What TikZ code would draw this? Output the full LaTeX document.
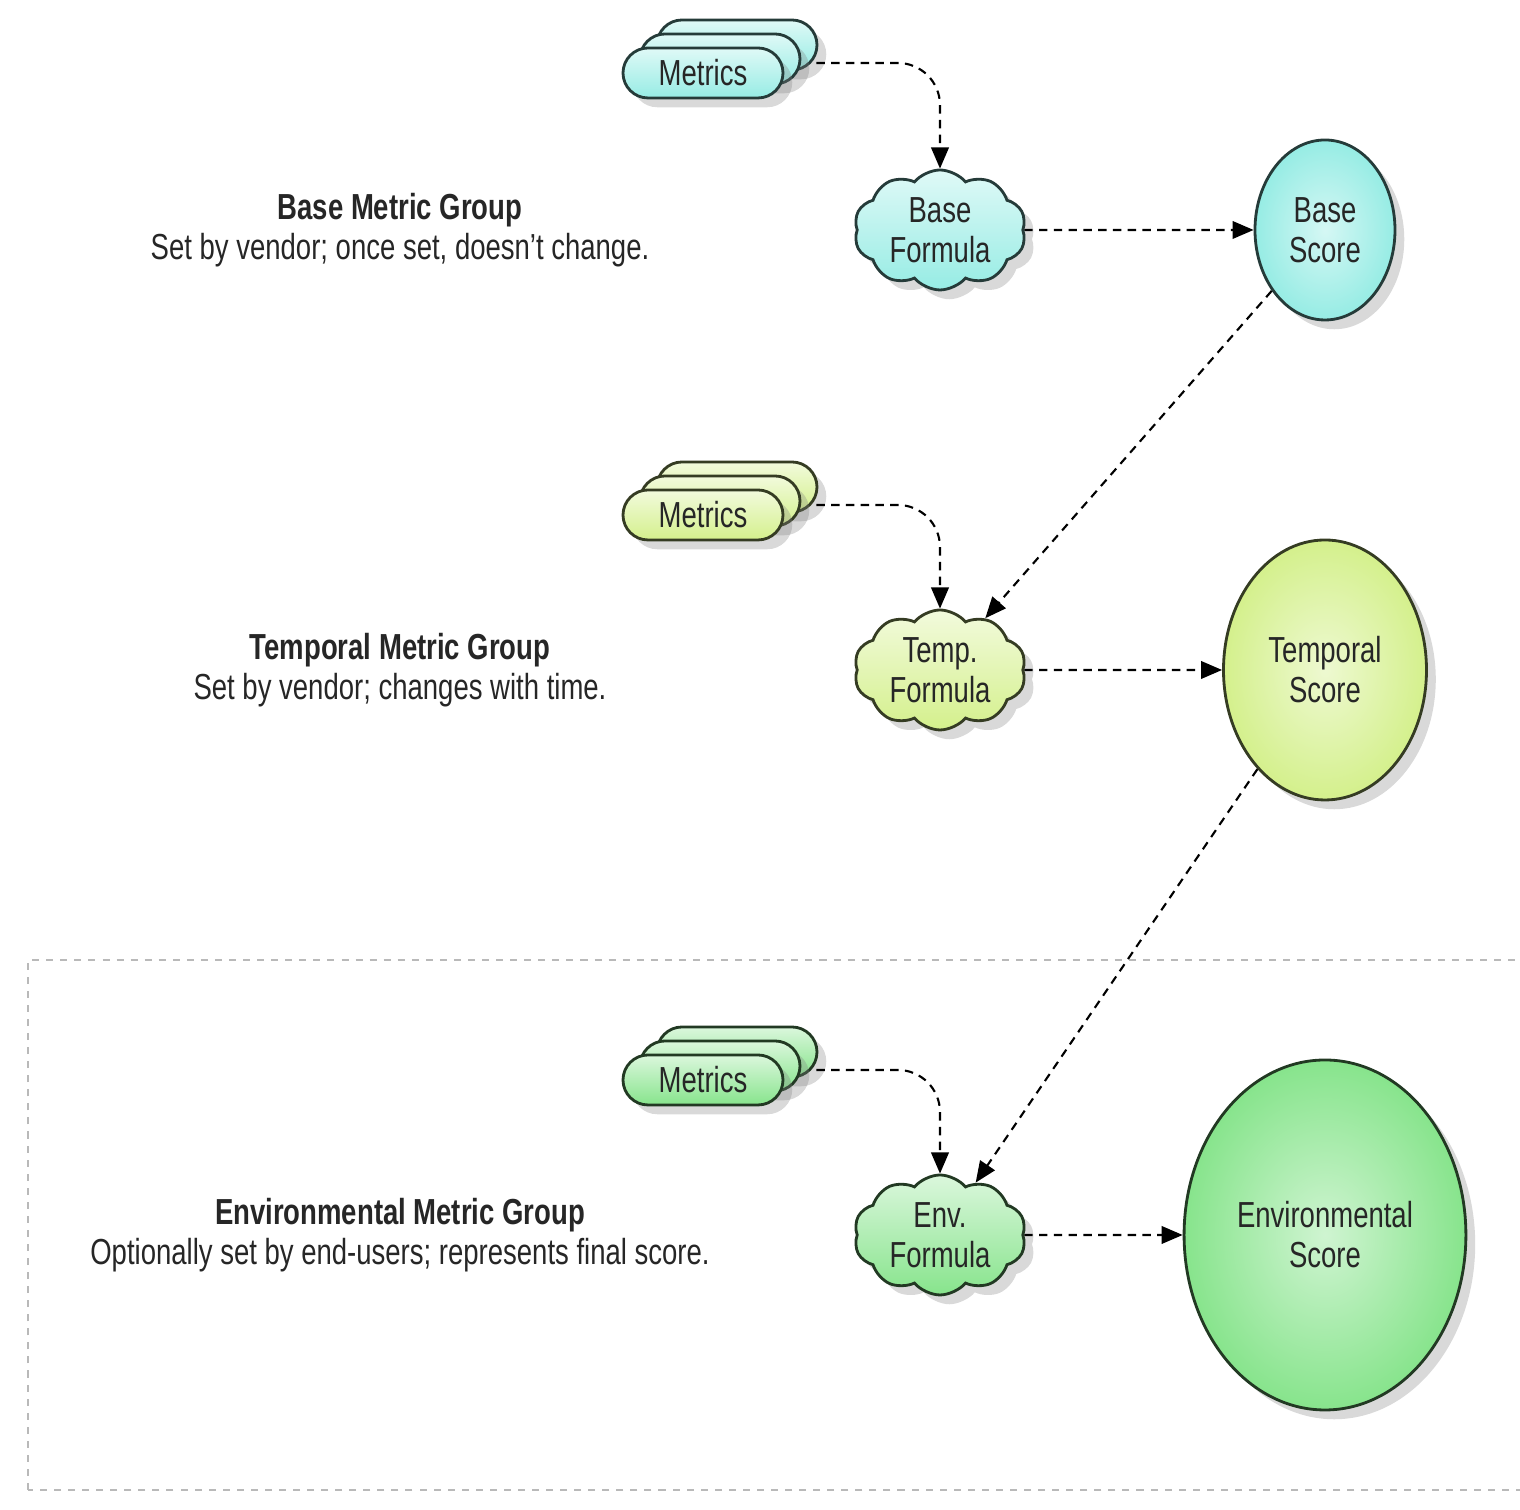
\documentclass[tikz,border=0pt]{standalone}
\usepackage{fontspec}
\setmainfont{Liberation Sans}[FakeStretch=0.76]
\usetikzlibrary{shapes,arrows.meta,shadows,calc,positioning}
\definecolor{basecol}{RGB}{150,236,228}
\definecolor{tempcol}{RGB}{212,240,140}
\definecolor{envcol}{RGB}{135,228,140}
\tikzset{
    font=\fontsize{10.3}{11.4}\selectfont,
    flow/.style={-{Triangle[length=6pt,width=5pt]},dash pattern=on 2.4pt off 1.8pt,semithick},
    metrics/.style={rounded rectangle, draw=#1!25!black, thick, top color=#1!30!white, bottom color=#1,
        minimum width=1.6cm, minimum height=0.5cm, inner sep=0pt, text=black!85, drop shadow={opacity=0.3}},
    formula/.style={cloud, cloud puffs=10, cloud puff arc=100, aspect=1.5, draw=#1!25!black, thick,
        top color=#1!30!white, bottom color=#1, minimum width=1.72cm, minimum height=1.2cm, inner sep=0pt,
        align=center, text=black!85, drop shadow={opacity=0.3}},
    score/.style={ellipse, draw=#1!25!black, thick, inner color=#1!40!white, outer color=#1, align=center,
        text=black!85, drop shadow={opacity=0.3}},
    grouptext/.style={align=center, text=black!85}
}
\begin{document}
\begin{tikzpicture}
    \clip (0,0) rectangle (15.2,15.1);
    % environmental box
    \draw[gray!55, dash pattern=on 2pt off 2pt] (0.28,0.2) rectangle (15.6,5.5);

    % base
    \node[metrics=basecol] (m1c) at (7.37,14.65) {};
    \node[metrics=basecol] (m1b) at (7.20,14.51) {};
    \node[metrics=basecol] (m1) at (7.03,14.37) {Metrics};
    \node[formula=basecol] (bf) at (9.40,12.80) {Base\\Formula};
    \node[score=basecol, minimum width=1.4cm, minimum height=1.8cm] (bs) at (13.25,12.80) {Base\\Score};
    \node[grouptext] (bg) at (4.00,12.80) {\textbf{Base Metric Group}\\Set by vendor; once set, doesn't change.};

    % temporal
    \node[metrics=tempcol] (m2c) at (7.37,10.23) {};
    \node[metrics=tempcol] (m2b) at (7.20,10.09) {};
    \node[metrics=tempcol] (m2) at (7.03,9.95) {Metrics};
    \node[formula=tempcol] (tf) at (9.40,8.40) {Temp.\\Formula};
    \node[score=tempcol, minimum width=2.03cm, minimum height=2.6cm] (ts) at (13.25,8.40) {Temporal\\Score};
    \node[grouptext] (tg) at (4.00,8.40) {\textbf{Temporal Metric Group}\\Set by vendor; changes with time.};

    % environmental
    \node[metrics=envcol] (m3c) at (7.37,4.58) {};
    \node[metrics=envcol] (m3b) at (7.20,4.44) {};
    \node[metrics=envcol] (m3) at (7.03,4.30) {Metrics};
    \node[formula=envcol] (ef) at (9.40,2.75) {Env.\\Formula};
    \node[score=envcol, minimum width=2.75cm, minimum height=3.5cm] (es) at (13.25,2.75) {Environmental\\Score};
    \node[grouptext] (eg) at (4.00,2.75) {\textbf{Environmental Metric Group}\\Optionally set by end-users; represents final score.};

    \draw[flow, rounded corners=12pt] ($(m1c.east)+(-0.02,-0.18)$) -| (bf.north);
    \draw[flow, rounded corners=12pt] ($(m2c.east)+(-0.02,-0.18)$) -| (tf.north);
    \draw[flow, rounded corners=12pt] ($(m3c.east)+(-0.02,-0.18)$) -| (ef.north);
    \draw[flow] (bf.east) -- (bs.west);
    \draw[flow] (tf.east) -- (ts.west);
    \draw[flow] (ef.east) -- (es.west);
    \draw[flow] (bs) -- (tf);
    \draw[flow] (ts) -- (ef);
\end{tikzpicture}
\end{document}
